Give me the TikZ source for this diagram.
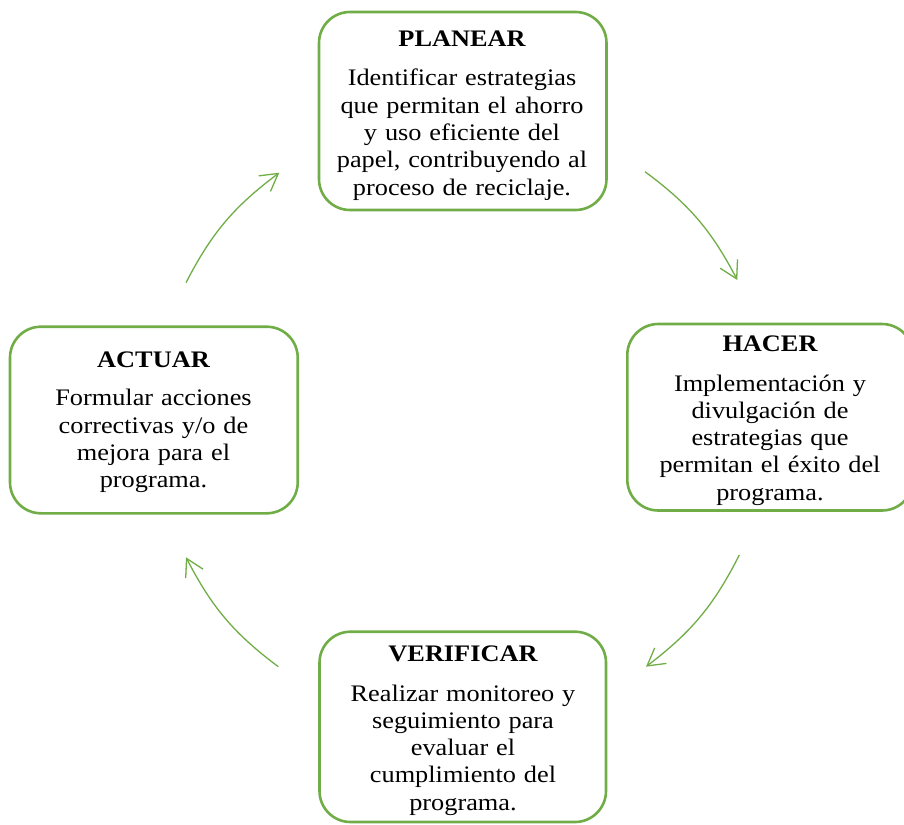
\documentclass[tikz,border=0pt]{standalone}
\usepackage{fontspec}
\setmainfont{Liberation Serif}[FakeStretch=1.11]
\usetikzlibrary{arrows.meta,bending}
\definecolor{pdcagreen}{HTML}{70AD47}
\tikzset{
  stage/.style={draw=pdcagreen, line width=2.6pt, rounded corners=31pt, inner sep=0pt},
  stagetitle/.style={anchor=base, inner sep=0pt, font=\fontsize{23.7}{27.3}\selectfont\bfseries},
  stagetext/.style={anchor=base, inner sep=0pt, align=center, text width=280pt,
    font=\fontsize{23.7}{27.3}\selectfont},
  cyclearrow/.style={draw=pdcagreen, line width=1.3pt,
    -{Straight Barb[length=17pt,width=19.5pt,line width=1.3pt]}}
}
\begin{document}
\begin{tikzpicture}[x=1pt,y=1pt]
  \useasboundingbox (0,0) rectangle (904,-824);
  \clip (0,0) rectangle (904,-824);

  % PDCA stages
  \node[stage, minimum width=287.5pt, minimum height=198pt] (planear) at (462.75,-111) {};
  \node[stagetitle] (planear-t) at (462,-46.7) {PLANEAR};
  \node[stagetext] (planear-b) at (462,-86) {Identificar estrategias\\que permitan el ahorro\\y uso eficiente del\\papel, contribuyendo al\\proceso de reciclaje.};

  \node[stage, minimum width=285.7pt, minimum height=186.5pt] (hacer) at (770.15,-417.25) {};
  \node[stagetitle] (hacer-t) at (770,-351.7) {HACER};
  \node[stagetext] (hacer-b) at (770,-391) {Implementación y\\divulgación de\\estrategias que\\permitan el éxito del\\programa.};

  \node[stage, minimum width=286.5pt, minimum height=190.3pt] (verificar) at (462.75,-726.85) {};
  \node[stagetitle] (verificar-t) at (463,-661.7) {VERIFICAR};
  \node[stagetext] (verificar-b) at (463,-701) {Realizar monitoreo y\\seguimiento para\\evaluar el\\cumplimiento del\\programa.};

  \node[stage, minimum width=287.7pt, minimum height=186.6pt] (actuar) at (153.85,-420) {};
  \node[stagetitle] (actuar-t) at (153.5,-367.3) {ACTUAR};
  \node[stagetext] (actuar-b) at (153.5,-405.7) {Formular acciones\\correctivas y/o de\\mejora para el\\programa.};

  % cycle arrows
  \coordinate (a1s) at (645,-171.7);   \coordinate (a1e) at (737.3,-280);
  \coordinate (a2s) at (739.3,-555);   \coordinate (a2e) at (646,-666.7);
  \coordinate (a3s) at (278.3,-666.7); \coordinate (a3e) at (186,-557.3);
  \coordinate (a4s) at (186,-282.7);   \coordinate (a4e) at (279.3,-172.7);
  \draw[cyclearrow] (a1s) to[bend left=13] (a1e);
  \draw[cyclearrow] (a2s) to[bend left=13] (a2e);
  \draw[cyclearrow] (a3s) to[bend left=13] (a3e);
  \draw[cyclearrow] (a4s) to[bend left=13] (a4e);
\end{tikzpicture}
\end{document}
